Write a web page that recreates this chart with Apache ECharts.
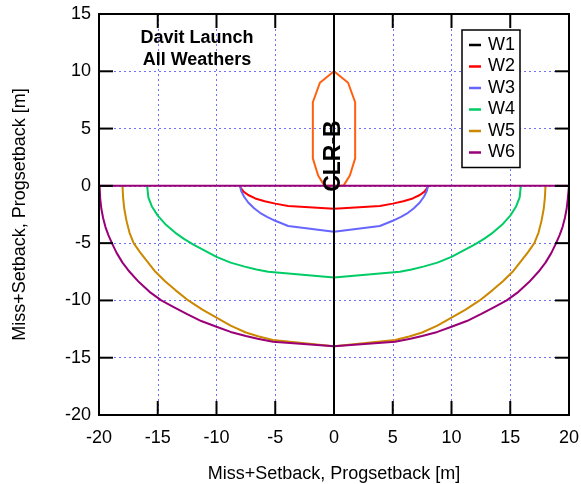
<!DOCTYPE html>
<html><head><meta charset="utf-8">
<script src="https://cdn.jsdelivr.net/npm/echarts@6/dist/echarts.min.js"></script>
<style>html,body{margin:0;padding:0;background:#fff}#c{width:581px;height:484px}</style>
</head><body><div id="c"></div>
<script>
const seriesNames = ['W1', 'W2', 'W3', 'W4', 'W5', 'W6'];
const seriesColors = ['#000000', '#ff0000', '#6666ff', '#00cc66', '#cc8800', '#990077'];
const xTicks = [-20, -15, -10, -5, 0, 5, 10, 15, 20];
const yTicks = [-20, -15, -10, -5, 0, 5, 10, 15];
const w1 = [[0, -20], [0, 15]];
const w2 = [[-8, 0], [-7.92, -0.2], [-7.7, -0.5], [-7.3, -0.8], [-6.7, -1.1], [-5.9, -1.35], [-5, -1.55], [-3.9, -1.75], [0, -2],
            [3.9, -1.75], [5, -1.55], [5.9, -1.35], [6.7, -1.1], [7.3, -0.8], [7.7, -0.5], [7.92, -0.2], [8, 0]];
const w3 = [[-8, 0], [-7.9, -0.45], [-7.65, -0.95], [-7.3, -1.45], [-6.8, -1.95], [-6.3, -2.35], [-5.7, -2.7], [-5, -3.05], [-3.9, -3.5], [0, -4],
            [3.9, -3.5], [5, -3.05], [5.7, -2.7], [6.3, -2.35], [6.8, -1.95], [7.3, -1.45], [7.65, -0.95], [7.9, -0.45], [8, 0]];
const w4 = [[-15.9, 0], [-15.8, -1.0], [-15.5, -1.8], [-15, -2.6], [-14.3, -3.4], [-13.5, -4.1], [-12.8, -4.6], [-12, -5.1], [-11, -5.65],
            [-10, -6.2], [-8.8, -6.7], [-7.6, -7.05], [-6.6, -7.3], [-5.6, -7.5], [0, -8],
            [5.6, -7.5], [6.6, -7.3], [7.6, -7.05], [8.8, -6.7], [10, -6.2], [11, -5.65], [12, -5.1], [12.8, -4.6], [13.5, -4.1],
            [14.3, -3.4], [15, -2.6], [15.5, -1.8], [15.8, -1.0], [15.9, 0]];
const w5 = [[-18, 0], [-17.95, -1.0], [-17.85, -2.0], [-17.65, -3.1], [-17.4, -4.1], [-17.05, -5], [-16.5, -5.8], [-15.9, -6.6],
            [-15.2, -7.5], [-14.4, -8.3], [-13.5, -9.1], [-12.4, -10], [-11.2, -10.8], [-10, -11.5], [-8.8, -12.2], [-7.5, -12.8],
            [-6.4, -13.15], [-5.2, -13.45], [0, -14],
            [5.2, -13.45], [6.4, -13.15], [7.5, -12.8], [8.8, -12.2], [10, -11.5], [11.2, -10.8], [12.4, -10], [13.5, -9.1],
            [14.4, -8.3], [15.2, -7.5], [15.9, -6.6], [16.5, -5.8], [17.05, -5], [17.4, -4.1], [17.65, -3.1], [17.85, -2.0],
            [17.95, -1.0], [18, 0]];
const w6 = [[-20, 0], [20, 0], [19.95, 0], [19.9, -1.1], [19.8, -2.0], [19.65, -2.8], [19.45, -3.6], [19.2, -4.3], [18.9, -5],
            [18.5, -5.85], [18.0, -6.7], [17.4, -7.5], [16.6, -8.4], [15.7, -9.25], [14.7, -10], [13.6, -10.6], [12.5, -11.2],
            [11.3, -11.8], [10, -12.3], [8.8, -12.75], [7.5, -13.1], [6.5, -13.35], [5.2, -13.6], [0, -14],
            [-5.2, -13.6], [-6.5, -13.35], [-7.5, -13.1], [-8.8, -12.75], [-10, -12.3], [-11.3, -11.8], [-12.5, -11.2],
            [-13.6, -10.6], [-14.7, -10], [-15.7, -9.25], [-16.6, -8.4], [-17.4, -7.5], [-18.0, -6.7], [-18.5, -5.85],
            [-18.9, -5], [-19.2, -4.3], [-19.45, -3.6], [-19.65, -2.8], [-19.8, -2.0], [-19.9, -1.1], [-19.95, 0]];
const clrB = [[0, 10], [1.2, 9], [1.8, 7.3], [1.8, 2.4], [1.35, 0.9], [0.8, 0], [-0.8, 0], [-1.35, 0.9], [-1.8, 2.4],
              [-1.8, 7.3], [-1.2, 9], [0, 10]];
const clrLabel = 'CLR-B';
const clrLabelPos = [0, 2.6];
const titleText = 'Davit Launch\nAll Weathers';
const axisName = 'Miss+Setback, Progsetback [m]';

const FONT = "'Liberation Sans', Arial, sans-serif";
const curves = [w1, w2, w3, w4, w5, w6];
const xMin = xTicks[0], xMax = xTicks[xTicks.length - 1];
const yMin = yTicks[0], yMax = yTicks[yTicks.length - 1];
const chart = echarts.init(document.getElementById('c'), null, {renderer: 'canvas'});

function gridLine() {
  return {show: true, showMinLine: false, showMaxLine: false,
    lineStyle: {color: '#7070ff', width: 1, type: [2, 3]}};
}

const series = [{
  name: 'CLR-B', type: 'line', data: clrB, showSymbol: false, silent: true, z: 2,
  lineStyle: {color: '#ff6010', width: 2}, itemStyle: {color: '#ff6010'},
  markPoint: {symbol: 'circle', symbolSize: 0, silent: true,
    data: [{coord: clrLabelPos, value: clrLabel}],
    label: {show: true, position: 'inside', formatter: clrLabel, rotate: 90, color: '#000',
      fontFamily: FONT, fontWeight: 'bold', fontSize: 23}}
}];
seriesNames.forEach((n, i) => {
  series.push({
    name: n, type: 'line', data: curves[i], showSymbol: false, silent: true,
    z: i === 0 ? 4 : 3,
    lineStyle: {color: seriesColors[i], width: 2}, itemStyle: {color: seriesColors[i]}
  });
});

const titleGraphic = {
  id: 'title', type: 'text', x: 197, y: 49, z: 10,
  style: {text: titleText, align: 'center', verticalAlign: 'middle', fill: '#000',
    font: "bold 18px " + FONT, lineHeight: 22}
};

chart.setOption({
  animation: false,
  backgroundColor: '#fff',
  textStyle: {fontFamily: FONT},
  grid: {left: 99, right: 12, top: 14, bottom: 69, containLabel: false, outerBoundsMode: 'none'},
  xAxis: {
    type: 'value', min: xMin, max: xMax, interval: 5,
    axisLine: {show: false}, axisTick: {show: false}, splitLine: gridLine(),
    axisLabel: {color: '#000', fontSize: 18, margin: 14, fontFamily: FONT},
    name: axisName, nameLocation: 'middle', nameGap: 50,
    nameTextStyle: {color: '#000', fontSize: 18, fontFamily: FONT}
  },
  yAxis: {
    type: 'value', min: yMin, max: yMax, interval: 5,
    axisLine: {show: false}, axisTick: {show: false}, splitLine: gridLine(),
    axisLabel: {color: '#000', fontSize: 18, margin: 8, fontFamily: FONT},
    name: axisName, nameLocation: 'middle', nameGap: 70, nameRotate: 90,
    nameTextStyle: {color: '#000', fontSize: 18, fontFamily: FONT}
  },
  legend: {
    data: seriesNames, orient: 'vertical', left: 462, top: 30,
    icon: 'rect', itemWidth: 12, itemHeight: 2.5, itemGap: 3.5,
    padding: [6, 5, 6, 7],
    backgroundColor: '#fff', borderColor: '#000', borderWidth: 1.5, borderRadius: 0,
    textStyle: {color: '#000', fontSize: 18, lineHeight: 17, fontFamily: FONT, padding: [0, 0, 0, 2]},
    selectedMode: false
  },
  graphic: [titleGraphic],
  series: series
});

// Frame and mirrored inward ticks, positioned through the chart's own axis scales.
const tl = chart.convertToPixel({gridIndex: 0}, [xMin, yMax]);
const br = chart.convertToPixel({gridIndex: 0}, [xMax, yMin]);
const TL = 14, TW = 2;
const frameEls = [{
  id: 'frame', type: 'rect', z: 20,
  shape: {x: tl[0], y: tl[1], width: br[0] - tl[0], height: br[1] - tl[1]},
  style: {fill: 'none', stroke: '#000', lineWidth: 2}
}];
xTicks.forEach((v, i) => {
  const px = chart.convertToPixel({gridIndex: 0}, [v, yMin])[0];
  frameEls.push({id: 'xb' + i, type: 'rect', z: 20,
    shape: {x: px - TW / 2, y: br[1] - TL, width: TW, height: TL}, style: {fill: '#000'}});
  frameEls.push({id: 'xt' + i, type: 'rect', z: 20,
    shape: {x: px - TW / 2, y: tl[1], width: TW, height: TL}, style: {fill: '#000'}});
});
yTicks.forEach((v, i) => {
  const py = chart.convertToPixel({gridIndex: 0}, [xMin, v])[1];
  frameEls.push({id: 'yl' + i, type: 'rect', z: 20,
    shape: {x: tl[0], y: py - TW / 2, width: TL, height: TW}, style: {fill: '#000'}});
  frameEls.push({id: 'yr' + i, type: 'rect', z: 20,
    shape: {x: br[0] - TL, y: py - TW / 2, width: TL, height: TW}, style: {fill: '#000'}});
});
chart.setOption({graphic: [titleGraphic].concat(frameEls)});
</script></body></html>
